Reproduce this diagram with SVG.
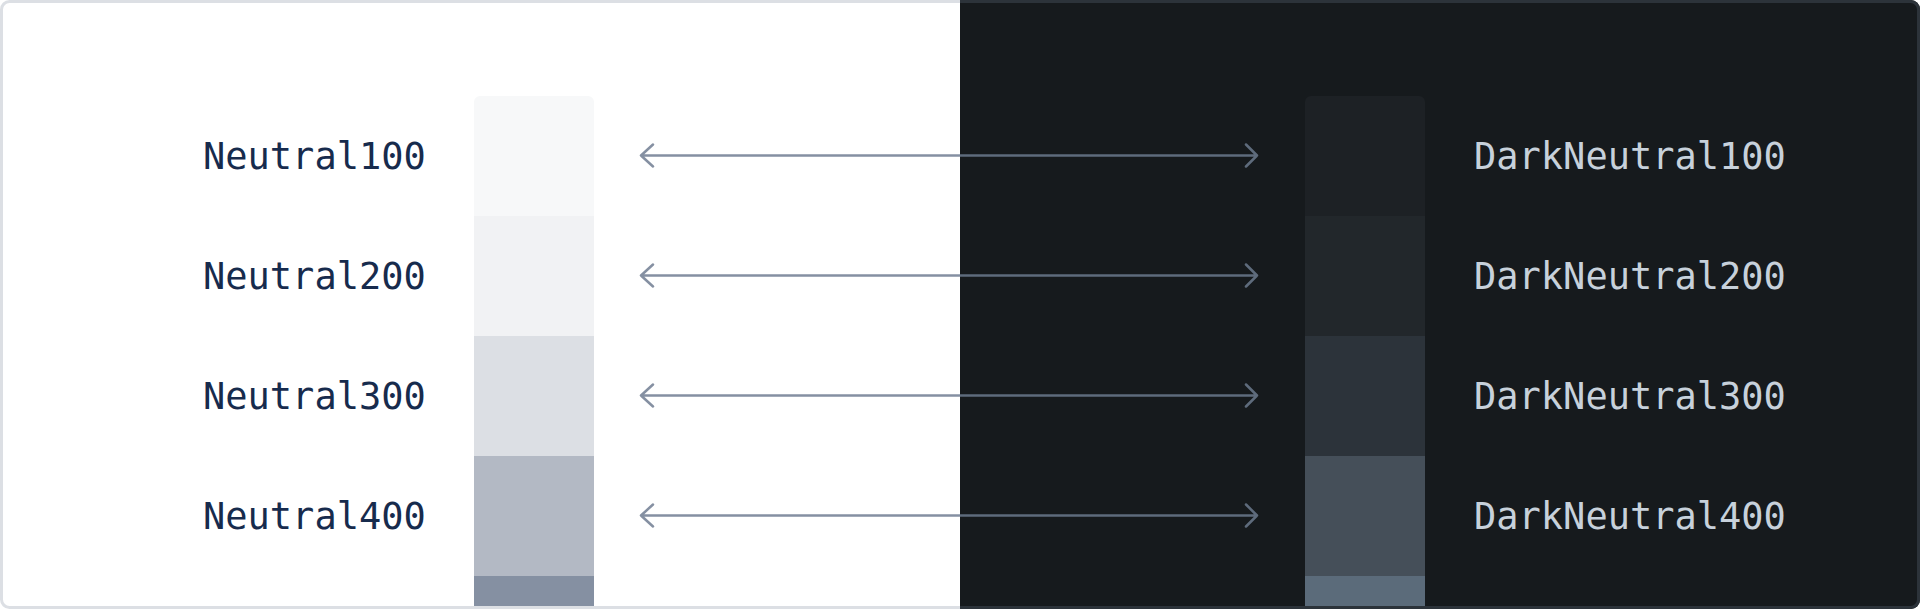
<svg xmlns="http://www.w3.org/2000/svg" width="1920" height="609" viewBox="0 0 1920 609">
<style>
.lbl{font-family:"DejaVu Sans Mono","Liberation Mono",monospace;font-size:37px}
.lt{fill:#172B4D}
.dk{fill:#C7D1DB}
.aL{stroke:#8590A2;stroke-width:2.5;fill:none;stroke-linecap:round;stroke-linejoin:round}
.aR{stroke:#5E6B7C;stroke-width:2.5;fill:none;stroke-linecap:round;stroke-linejoin:round}
</style>
<defs>
<clipPath id="all"><rect x="0" y="0" width="1920" height="609" rx="9"/></clipPath>
<clipPath id="lh"><rect x="0" y="0" width="960" height="609"/></clipPath>
<clipPath id="rh"><rect x="960" y="0" width="960" height="609"/></clipPath>
<clipPath id="swL"><rect x="474" y="96" width="120" height="520" rx="6"/></clipPath>
<clipPath id="swR"><rect x="1305" y="96" width="120" height="520" rx="6"/></clipPath>
</defs>
<g clip-path="url(#all)">
<rect x="0" y="0" width="960" height="609" fill="#FFFFFF"/>
<rect x="960" y="0" width="960" height="609" fill="#161A1D"/>
</g>
<g id="light-swatches" clip-path="url(#swL)">
<rect x="474" y="96" width="120" height="120" fill="#F7F8F9"/>
<rect x="474" y="216" width="120" height="120" fill="#F1F2F4"/>
<rect x="474" y="336" width="120" height="120" fill="#DCDFE4"/>
<rect x="474" y="456" width="120" height="120" fill="#B3B9C4"/>
<rect x="474" y="576" width="120" height="40" fill="#8590A2"/>
</g>
<g id="dark-swatches" clip-path="url(#swR)">
<rect x="1305" y="96" width="120" height="120" fill="#1D2125"/>
<rect x="1305" y="216" width="120" height="120" fill="#22272B"/>
<rect x="1305" y="336" width="120" height="120" fill="#2C333A"/>
<rect x="1305" y="456" width="120" height="120" fill="#454F59"/>
<rect x="1305" y="576" width="120" height="40" fill="#5B6B7A"/>
</g>
<g id="labels-light">
<text id="n100" class="lbl lt" x="203" y="169">Neutral100</text>
<text id="n200" class="lbl lt" x="203" y="289">Neutral200</text>
<text id="n300" class="lbl lt" x="203" y="409">Neutral300</text>
<text id="n400" class="lbl lt" x="203" y="529">Neutral400</text>
</g>
<g id="labels-dark">
<text id="d100" class="lbl dk" x="1474" y="169">DarkNeutral100</text>
<text id="d200" class="lbl dk" x="1474" y="289">DarkNeutral200</text>
<text id="d300" class="lbl dk" x="1474" y="409">DarkNeutral300</text>
<text id="d400" class="lbl dk" x="1474" y="529">DarkNeutral400</text>
</g>
<g id="connectors">
<g clip-path="url(#lh)">
<path class="aL" d="M641 155.5H1257M653 144.5L641 155.5L653 166.5M1246 144.5L1257 155.5L1246 166.5"/>
<path class="aL" d="M641 275.5H1257M653 264.5L641 275.5L653 286.5M1246 264.5L1257 275.5L1246 286.5"/>
<path class="aL" d="M641 395.5H1257M653 384.5L641 395.5L653 406.5M1246 384.5L1257 395.5L1246 406.5"/>
<path class="aL" d="M641 515.5H1257M653 504.5L641 515.5L653 526.5M1246 504.5L1257 515.5L1246 526.5"/>
</g>
<g clip-path="url(#rh)">
<path class="aR" d="M641 155.5H1257M653 144.5L641 155.5L653 166.5M1246 144.5L1257 155.5L1246 166.5"/>
<path class="aR" d="M641 275.5H1257M653 264.5L641 275.5L653 286.5M1246 264.5L1257 275.5L1246 286.5"/>
<path class="aR" d="M641 395.5H1257M653 384.5L641 395.5L653 406.5M1246 384.5L1257 395.5L1246 406.5"/>
<path class="aR" d="M641 515.5H1257M653 504.5L641 515.5L653 526.5M1246 504.5L1257 515.5L1246 526.5"/>
</g>
</g>
<g id="frame">
<rect x="1.5" y="1.5" width="1917" height="606" rx="8" fill="none" stroke="#DCDFE4" stroke-width="3" clip-path="url(#lh)"/>
<rect x="1.5" y="1.5" width="1917" height="606" rx="8" fill="none" stroke="#2C333A" stroke-width="3" clip-path="url(#rh)"/>
</g>
</svg>
